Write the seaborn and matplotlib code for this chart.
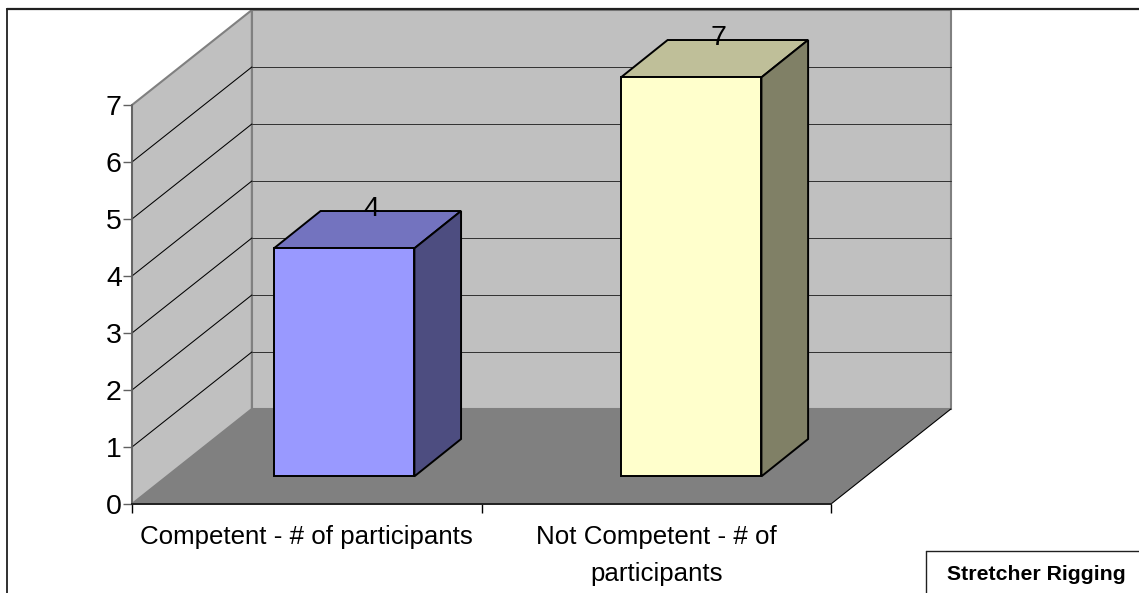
import matplotlib
matplotlib.use("Agg")
import matplotlib.pyplot as plt
from matplotlib.lines import Line2D
from matplotlib.patches import Polygon, Rectangle
import pandas as pd
import seaborn as sns

# Values and labels
categories = ["Competent - # of participants", "Not Competent - # of\nparticipants"]
participants = [4, 7]
value_ticks = [0, 1, 2, 3, 4, 5, 6, 7]
front_colors = ["#9999FF", "#FFFFCC"]
top_colors = ["#7373BF", "#BFBF99"]
side_colors = ["#4D4D80", "#808066"]
caption = "Stretcher Rigging"

# Oblique projection, in data units of the front plane
WALL_DX, WALL_DY = 0.343, 1.667
BAR_SHIFT_X = [0.107, 0.1]
BAR_SHIFT_Y = 0.485
BAR_DX, BAR_DY = 0.1335, 0.655
BAR_WIDTH = 0.402

W, H = 1139, 593
sns.set_theme(style="white")
plt.rcParams["font.family"] = ["Liberation Sans", "DejaVu Sans"]

fig = plt.figure(figsize=(W / 100, H / 100), dpi=100, facecolor="white")
ax = fig.add_axes([132 / W, (H - 504) / H, 699 / W, 399 / H])

table = pd.DataFrame({"category": categories, "participants": participants})
sns.barplot(
    data=table, x="category", y="participants", hue="category",
    palette=front_colors, saturation=1, width=BAR_WIDTH, legend=False,
    bottom=BAR_SHIFT_Y, edgecolor="black", linewidth=1.4, ax=ax, zorder=5,
)
ax.set_xlim(-0.5, 1.5)
ax.set_ylim(0, 7)
ax.set_xlabel("")
ax.set_ylabel("")


def add_poly(points, face, edge="none", lw=0, z=1):
    ax.add_patch(Polygon(points, closed=True, facecolor=face, edgecolor=edge,
                         linewidth=lw, zorder=z, clip_on=False, joinstyle="miter"))


# Walls and floor
x0, x1 = -0.5, 1.5
top = value_ticks[-1]
add_poly([(x0, 0), (x0, top), (x0 + WALL_DX, top + WALL_DY), (x0 + WALL_DX, WALL_DY)],
         "#C0C0C0", "#808080", 1.5)
add_poly([(x0 + WALL_DX, WALL_DY), (x0 + WALL_DX, top + WALL_DY),
          (x1 + WALL_DX, top + WALL_DY), (x1 + WALL_DX, WALL_DY)],
         "#C0C0C0", "#808080", 1.5)
add_poly([(x0, 0), (x1, 0), (x1 + WALL_DX, WALL_DY), (x0 + WALL_DX, WALL_DY)], "#808080", z=1.2)
ax.plot([x1, x1 + WALL_DX], [0, WALL_DY], color="black", lw=0.8, zorder=1.3, clip_on=False)

# Gridlines run along the side wall, then across the back wall
for v in value_ticks[1:-1]:
    ax.plot([x0, x0 + WALL_DX], [v, v + WALL_DY],
            color="black", lw=0.75, zorder=1.1, clip_on=False)
    ax.plot([x0 + WALL_DX, x1 + WALL_DX], [v + WALL_DY, v + WALL_DY],
            color="#303030", lw=0.7, zorder=1.1, clip_on=False)

# Bars: shift each front face off the axis plane and add its top and side faces
bars = [p for p in ax.patches if isinstance(p, Rectangle)]
for i, (bar, value) in enumerate(zip(bars, participants)):
    bar.set_x(bar.get_x() + BAR_SHIFT_X[i])
    bar.set_clip_on(False)
    left, right = bar.get_x(), bar.get_x() + bar.get_width()
    low, high = bar.get_y(), bar.get_y() + bar.get_height()
    add_poly([(left, high), (right, high), (right + BAR_DX, high + BAR_DY), (left + BAR_DX, high + BAR_DY)],
             top_colors[i], "black", 1.4, z=4.9)
    add_poly([(right, low), (right + BAR_DX, low + BAR_DY), (right + BAR_DX, high + BAR_DY), (right, high)],
             side_colors[i], "black", 1.4, z=4.9)
    ax.text((left + right + BAR_DX) / 2 + 0.01, high + BAR_DY + 0.03, str(value),
            ha="center", va="center", fontsize=20.5, color="black", zorder=6, clip_on=False)

# Axis styling
for name in ("top", "right"):
    ax.spines[name].set_visible(False)
ax.spines["left"].set_color("#606060")
ax.spines["left"].set_linewidth(1.2)
ax.spines["bottom"].set_color("#202020")
ax.spines["bottom"].set_linewidth(1.4)
for spine in ax.spines.values():
    spine.set_zorder(3)

ax.set_yticks(value_ticks)
ax.tick_params(axis="y", which="major", left=True, length=6.3, width=1, color="#606060",
               labelsize=20.5, pad=1, labelcolor="black")
ax.set_xticks([-0.5, 0.5, 1.5])
ax.set_xticklabels([])
ax.set_xticks([0, 1], minor=True)
ax.set_xticklabels(categories, minor=True, fontsize=18.6, color="black", linespacing=1.67,
                   va="top")
ax.tick_params(axis="x", which="major", bottom=True, length=6.5, width=1, color="black")
ax.tick_params(axis="x", which="minor", bottom=False, pad=11)

# Outer frame and the caption box, in figure coordinates
def fig_line(xs, ys, lw=1.3, color="#202020"):
    fig.add_artist(Line2D([x / W for x in xs], [1 - y / H for y in ys], color=color, lw=lw))


fig_line([7, 7], [9, H])
fig_line([7, W], [9, 9], lw=1.6)
fig_line([925.5, 925.5], [551, H], lw=1)
fig_line([925.5, W], [551, 551], lw=1)
fig.text(1036 / W, 1 - 574 / H, caption, ha="center", va="center",
         fontsize=15.3, fontweight="bold", color="black")

fig.savefig("out.png", dpi=100, facecolor="white")
